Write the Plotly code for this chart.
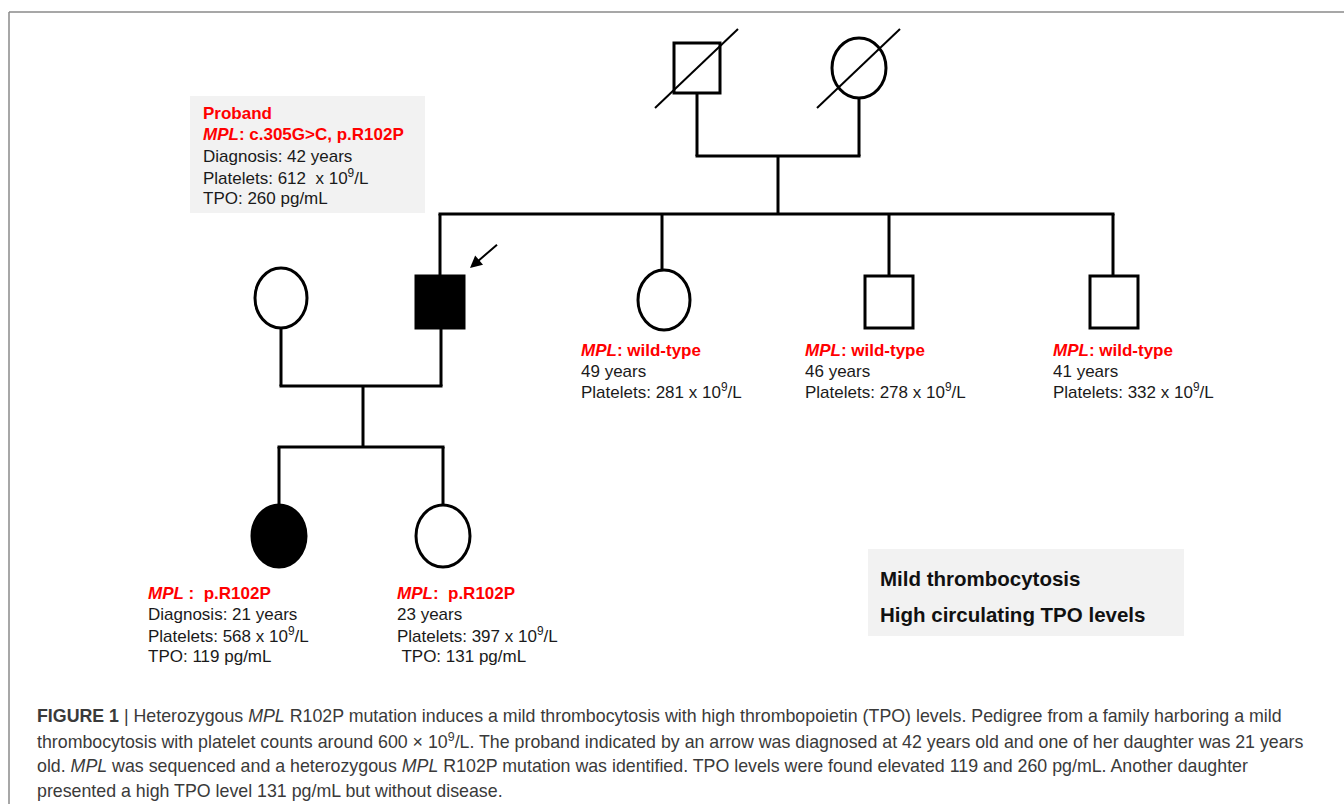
import plotly.graph_objects as go

# ---------------- data ----------------
members = ["Grandfather", "Grandmother", "Spouse", "Proband", "Sister", "Brother 1", "Brother 2", "Daughter 1", "Daughter 2"]
sex = ["M", "F", "F", "M", "F", "M", "M", "F", "F"]
affected = [False, False, False, True, False, False, False, True, False]
deceased = [True, True, False, False, False, False, False, False, False]
genotype = [None, None, None, "c.305G>C, p.R102P", "wild-type", "wild-type", "wild-type", "p.R102P", "p.R102P"]
ages = [None, None, None, 42, 49, 46, 41, 21, 23]
platelets = [None, None, None, 612, 281, 278, 332, 568, 397]
tpo = [None, None, None, 260, None, None, None, 119, 131]
summary_lines = ["Mild thrombocytosis", "High circulating TPO levels"]
caption_lines = [
    "<b>FIGURE 1</b> | Heterozygous <i>MPL</i> R102P mutation induces a mild thrombocytosis with high thrombopoietin (TPO) levels. Pedigree from a family harboring a mild",
    "thrombocytosis with platelet counts around 600 \u00d7 10<sup>9</sup>/L. The proband indicated by an arrow was diagnosed at 42 years old and one of her daughter was 21 years",
    "old. <i>MPL</i> was sequenced and a heterozygous <i>MPL</i> R102P mutation was identified. TPO levels were found elevated 119 and 260 pg/mL. Another daughter",
    "presented a high TPO level 131 pg/mL but without disease.",
]

# ---------------- layout geometry (pixels) ----------------
geom = {
    "Grandfather": (697, 68, 23, 25),
    "Grandmother": (859, 68, 27, 30),
    "Spouse": (281, 298, 26, 30),
    "Proband": (440, 302, 24, 26),
    "Sister": (664, 300, 26, 30),
    "Brother 1": (889, 302, 24, 26),
    "Brother 2": (1114, 302, 24, 26),
    "Daughter 1": (279, 536, 27, 31),
    "Daughter 2": (443, 536, 27, 31),
}
LW = 3
BLACK = "#000000"
RED = "#ff0000"
TXT = "#1a1a1a"
FONT = "Liberation Sans, Arial, sans-serif"
FS = 17

fig = go.Figure()
shapes = []
annotations = []


def line(x0, y0, x1, y1, w=LW, color=BLACK):
    shapes.append(dict(type="line", x0=x0, y0=y0, x1=x1, y1=y1, xref="x", yref="y",
                       line=dict(color=color, width=w)))


# frame
line(9, 12, 1344, 12, w=1.5, color="#8a8a8a")
line(9, 12, 9, 804, w=1.5, color="#8a8a8a")

# grey boxes
shapes.append(dict(type="rect", x0=190, y0=96, x1=425, y1=213, xref="x", yref="y",
                   fillcolor="#f2f2f2", line=dict(width=0), layer="below"))
shapes.append(dict(type="rect", x0=868, y0=549, x1=1184, y1=636, xref="x", yref="y",
                   fillcolor="#f2f2f2", line=dict(width=0), layer="below"))

# connecting lines
line(697, 93, 697, 156); line(859, 98, 859, 156); line(695.5, 156, 860.5, 156)
line(778, 156, 778, 214); line(438.5, 214, 1114.5, 214)
line(440, 214, 440, 276)
line(662, 214, 662, 270)
line(889, 214, 889, 276)
line(1113, 214, 1113, 276)
line(281, 328, 281, 386); line(441, 328, 441, 386); line(279.5, 386, 442.5, 386)
line(363, 386, 363, 447); line(277.5, 447, 444.5, 447)
line(279, 447, 279, 505); line(443, 447, 443, 505)

# symbols
for name, s, aff, dec in zip(members, sex, affected, deceased):
    cx, cy, hw, hh = geom[name]
    shapes.append(dict(type="rect" if s == "M" else "circle", x0=cx - hw, x1=cx + hw,
                       y0=cy - hh, y1=cy + hh, xref="x", yref="y",
                       fillcolor=BLACK if aff else "white",
                       line=dict(color=BLACK, width=LW)))
    if dec:
        line(cx - 42, cy + 40, cx + 41, cy - 39, w=2)

# proband arrow
annotations.append(dict(x=470, y=268, ax=499, ay=243, xref="x", yref="y", axref="x", ayref="y",
                        showarrow=True, arrowhead=2, arrowsize=1.2, arrowwidth=2,
                        arrowcolor=BLACK, text=" ", font=dict(size=2)))


def text(x, y, t, size=FS, color=TXT, family=FONT):
    annotations.append(dict(x=x, y=y, xref="x", yref="y", text=t, showarrow=False,
                            xanchor="left", yanchor="middle",
                            font=dict(size=size, color=color, family=family)))


sup = "10<sup>9</sup>/L"
pi = members.index("Proband")
text(201, 113, "<b>Proband</b>", color=RED)
text(201, 134, f"<b><i>MPL</i>: {genotype[pi]}</b>", color=RED)
text(201, 156, f"Diagnosis: {ages[pi]} years")
text(201, 177, f"Platelets: {platelets[pi]}  x {sup}")
text(201, 198, f"TPO: {tpo[pi]} pg/mL")

for name, x in zip(["Sister", "Brother 1", "Brother 2"], [579, 803, 1051]):
    i = members.index(name)
    text(x, 350, f"<b><i>MPL</i>: {genotype[i]}</b>", color=RED)
    text(x, 371, f"{ages[i]} years")
    text(x, 391, f"Platelets: {platelets[i]} x {sup}")

i = members.index("Daughter 1")
text(146, 593, f"<b><i>MPL</i> :  {genotype[i]}</b>", color=RED)
text(146, 614, f"Diagnosis: {ages[i]} years")
text(146, 635, f"Platelets: {platelets[i]} x {sup}")
text(146, 656, f"TPO: {tpo[i]} pg/mL")
i = members.index("Daughter 2")
text(395, 593, f"<b><i>MPL</i>:  {genotype[i]}</b>", color=RED)
text(395, 614, f"{ages[i]} years")
text(395, 635, f"Platelets: {platelets[i]} x {sup}")
text(395, 656, f" TPO: {tpo[i]} pg/mL")

text(878, 578, f"<b>{summary_lines[0]}</b>", size=20.5, color="#111111")
text(878, 614, f"<b>{summary_lines[1]}</b>", size=20.5, color="#111111")

for k, ln in enumerate(caption_lines):
    text(35, 716 + 25 * k, ln, size=17.8, color="#3a3a3a", family=FONT)

fig.update_layout(
    width=1344, height=804,
    margin=dict(l=0, r=0, t=0, b=0),
    paper_bgcolor="white", plot_bgcolor="white",
    xaxis=dict(range=[0, 1344], visible=False, fixedrange=True),
    yaxis=dict(range=[804, 0], visible=False, fixedrange=True),
    shapes=shapes, annotations=annotations, showlegend=False,
)
fig.write_html("out.html", config={"displayModeBar": False},
               post_script="document.body.style.margin='0';document.body.style.overflow='hidden';")
